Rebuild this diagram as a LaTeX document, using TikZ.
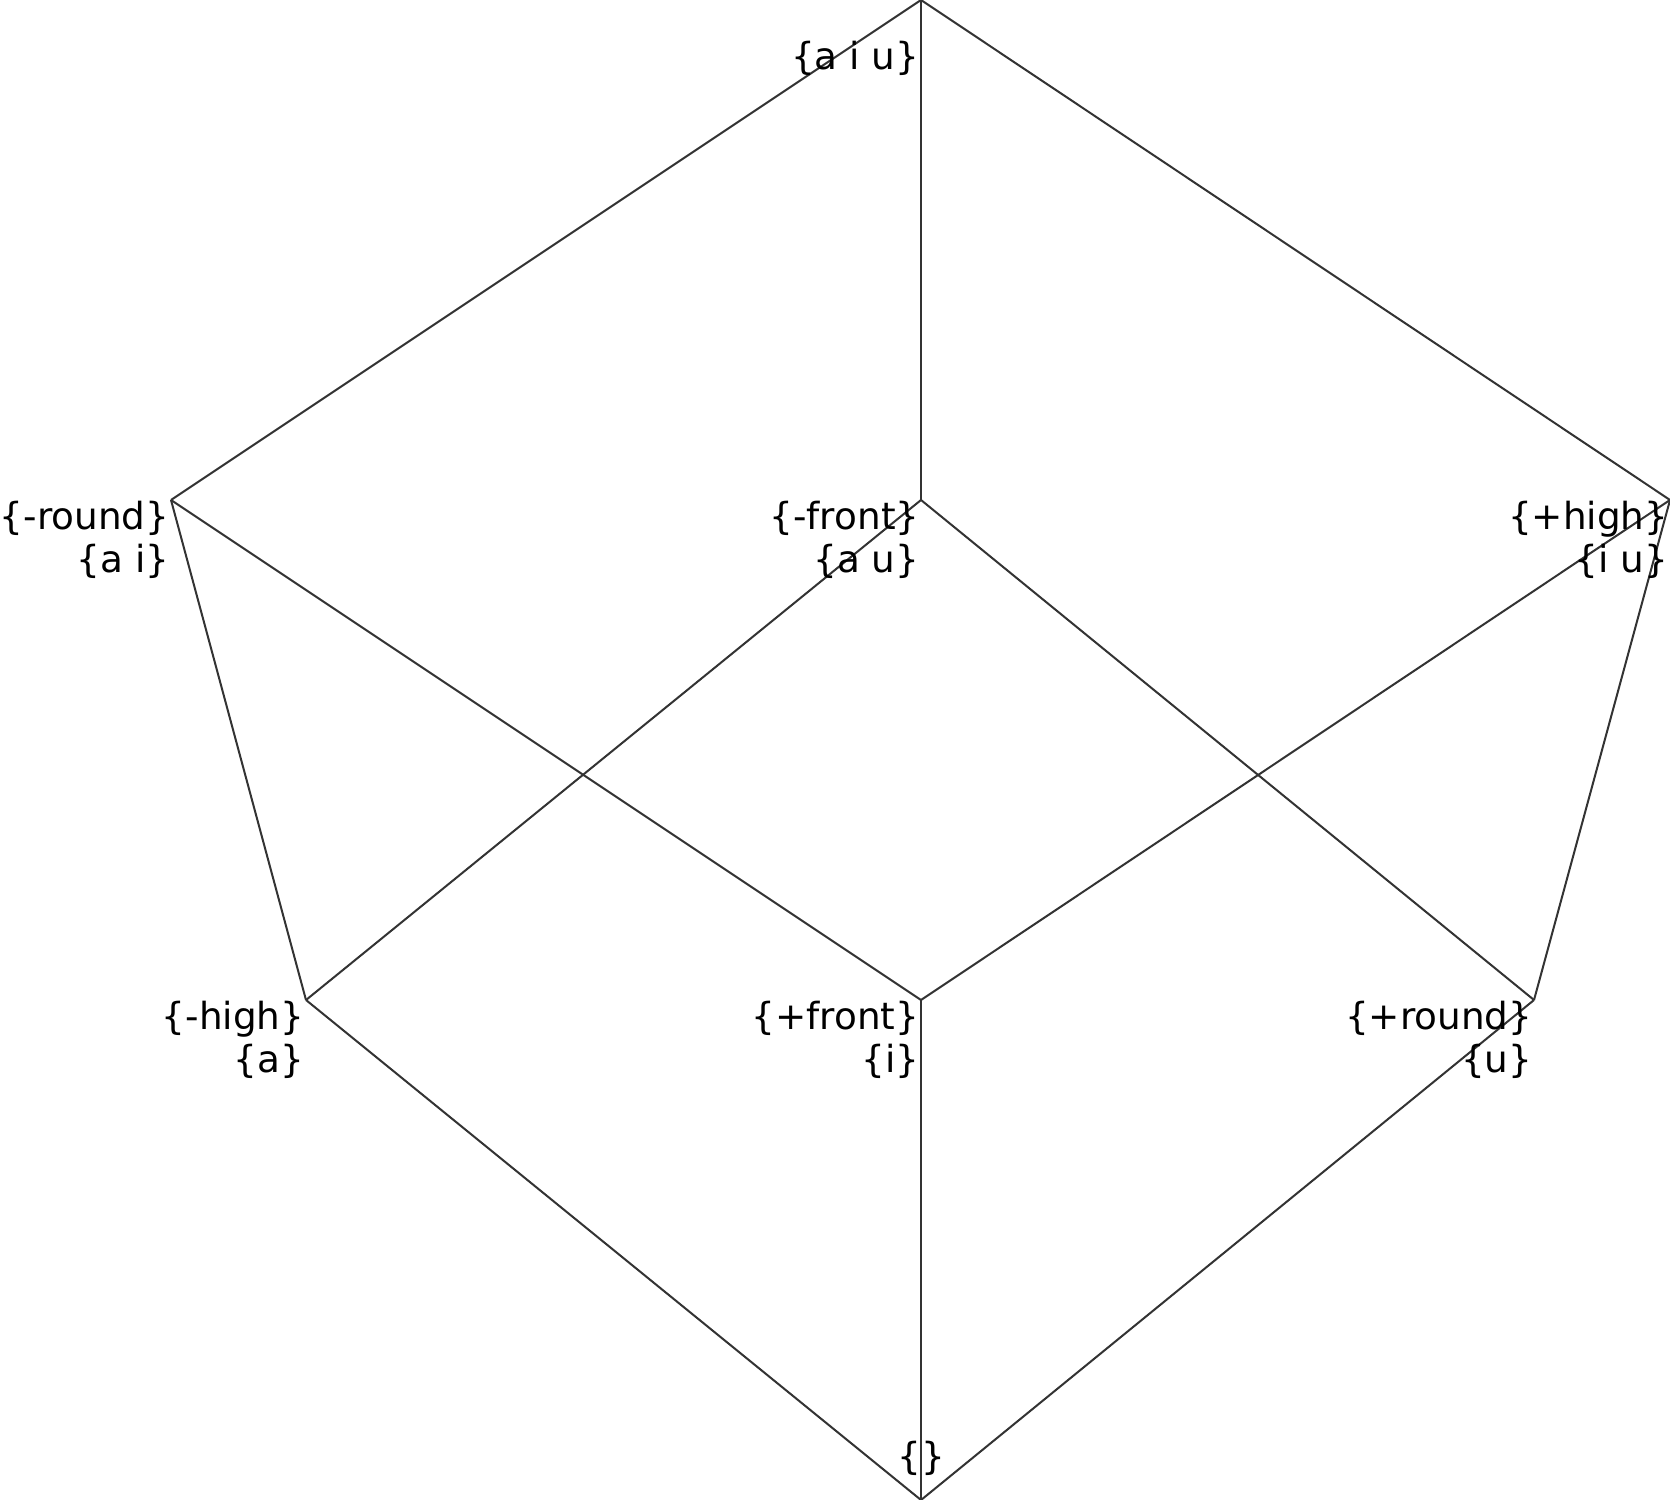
\documentclass[tikz,border=0pt]{standalone}
\usepackage{fontspec}
\setmainfont{DejaVu Sans}
\begin{document}
\begin{tikzpicture}[x=0.3pt,y=-0.3pt,
  edge/.style={draw=black!80,line width=0.6pt},
  lab/.style={anchor=north east,inner sep=0pt,align=right,font=\fontsize{11.2}{12.9}\selectfont}]
\useasboundingbox (0,0) rectangle (1670,1500);
% lattice points
\coordinate (all) at (921,0);
\coordinate (mround) at (171,500);
\coordinate (mfront) at (921,500);
\coordinate (phigh) at (1670,500);
\coordinate (mhigh) at (306,1000);
\coordinate (pfront) at (921,1000);
\coordinate (pround) at (1534,1000);
\coordinate (none) at (921,1500);

% edges
\foreach \a/\b in {all/mround,all/mfront,all/phigh,
  mround/mhigh,mround/pfront,mfront/mhigh,mfront/pround,
  phigh/pfront,phigh/pround,mhigh/none,pfront/none,pround/none}
  \draw[edge] (\a) -- (\b);

% labels
\node[lab] (lall) at (920,40) {\{a i u\}};
\node[lab] (lmround) at (170,500) {\{-round\}\\\{a i\}};
\node[lab] (lmfront) at (920,500) {\{-front\}\\\{a u\}};
\node[lab] (lphigh) at (1669,500) {\{+high\}\\\{i u\}};
\node[lab] (lmhigh) at (305,1000) {\{-high\}\\\{a\}};
\node[lab] (lpfront) at (920,1000) {\{+front\}\\\{i\}};
\node[lab] (lpround) at (1533,1000) {\{+round\}\\\{u\}};
\node[lab,anchor=north] (lnone) at (921,1440) {\{\}};
\end{tikzpicture}
\end{document}
